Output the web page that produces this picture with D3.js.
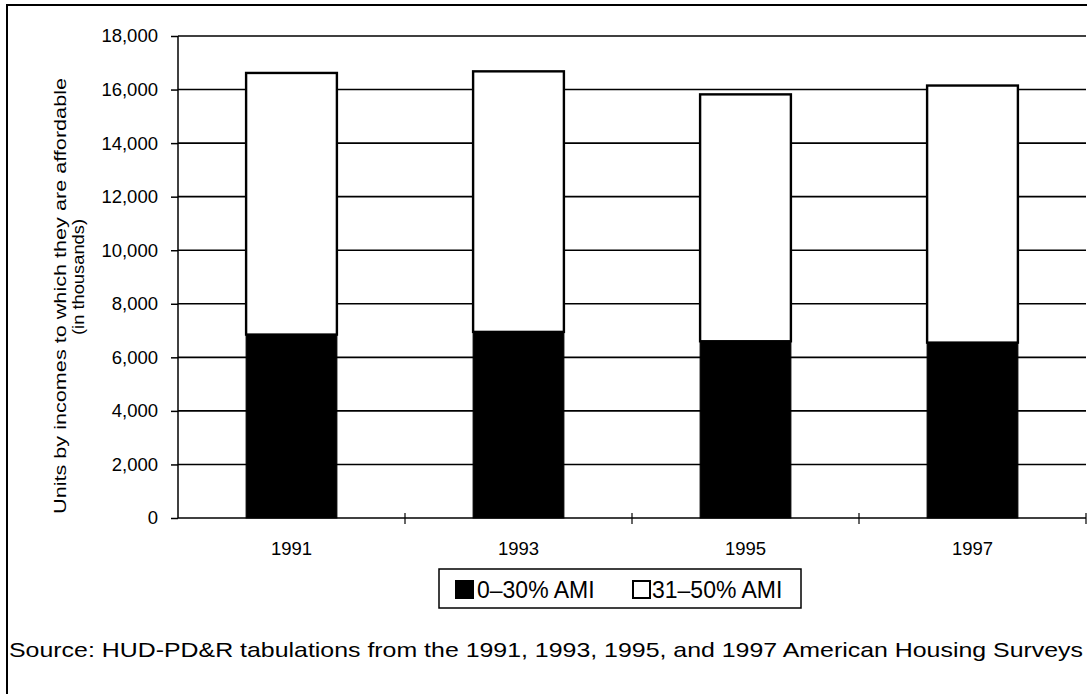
<!DOCTYPE html>
<html><head><meta charset="utf-8">
<script src="https://cdn.jsdelivr.net/npm/d3@7"></script>
<style>body{margin:0;background:#fff}svg{display:block}</style>
</head><body>
<svg id="c" width="1087" height="694"></svg>
<script>
const years = ["1991","1993","1995","1997"];
const low = [6850, 6950, 6600, 6550];      // 0–30% AMI
const mid = [9770, 9730, 9220, 9600];      // 31–50% AMI
const seriesNames = ["0\u201330% AMI","31\u201350% AMI"];
const yTicks = [0,2000,4000,6000,8000,10000,12000,14000,16000,18000];
const yLabel1 = "Units by incomes to which they are affordable";
const yLabel2 = "(in thousands)";
const source = "Source: HUD-PD&R tabulations from the 1991, 1993, 1995, and 1997 American Housing Surveys";

const svg = d3.select("#c");
const font = "Arial, 'Liberation Sans', sans-serif";
const L = 178, R = 1086, T = 36, B = 518;

// outer frame
svg.append("path").attr("d","M7,694 L7,5 L1087,5").attr("fill","none").attr("stroke","#000").attr("stroke-width",2);

const x = d3.scaleBand().domain(years).range([L,R]).paddingInner(0.6).paddingOuter(0.3);
const xb = d3.scaleBand().domain(years).range([L,R]);
const y = d3.scaleLinear().domain([0,18000]).range([B,T]);

// gridlines
svg.append("g").selectAll("line").data(yTicks.slice(1)).join("line")
  .attr("x1",L).attr("x2",R).attr("y1",d=>y(d)).attr("y2",d=>y(d))
  .attr("stroke","#000").attr("stroke-width",1.6);

// bars
const data = years.map((yr,i)=>({yr, a:low[i], b:mid[i]}));
const g = svg.append("g");
g.selectAll("rect.w").data(data).join("rect").attr("class","w")
  .attr("x",d=>x(d.yr)).attr("width",x.bandwidth())
  .attr("y",d=>y(d.a+d.b)).attr("height",d=>y(d.a)-y(d.a+d.b))
  .attr("fill","#fff").attr("stroke","#000").attr("stroke-width",2.4);
g.selectAll("rect.k").data(data).join("rect").attr("class","k")
  .attr("x",d=>x(d.yr)).attr("width",x.bandwidth())
  .attr("y",d=>y(d.a)).attr("height",d=>y(0)-y(d.a))
  .attr("fill","#000").attr("stroke","#000").attr("stroke-width",1);

// y axis
const ya = svg.append("g").attr("transform",`translate(${L},0)`)
  .call(d3.axisLeft(y).tickValues(yTicks).tickSize(7).tickPadding(13).tickFormat(d3.format(",")));
ya.select(".domain").attr("stroke","#000").attr("stroke-width",1.5).attr("d",`M0,${B}V${T}`);
ya.selectAll(".tick line").attr("stroke","#000").attr("stroke-width",1.5);
ya.selectAll("text").attr("font-family",font).attr("font-size",18.5).attr("fill","#000");

// x axis
svg.append("line").attr("x1",L).attr("x2",R).attr("y1",B).attr("y2",B).attr("stroke","#000").attr("stroke-width",1.6);
svg.append("g").selectAll("line").data(years).join("line")
  .attr("x1",d=>xb(d)+xb.bandwidth()).attr("x2",d=>xb(d)+xb.bandwidth())
  .attr("y1",B-5).attr("y2",B+6).attr("stroke","#000").attr("stroke-width",1.2);
svg.append("g").selectAll("text").data(years).join("text")
  .attr("x",d=>x(d)+x.bandwidth()/2).attr("y",555).attr("text-anchor","middle")
  .attr("font-family",font).attr("font-size",18.5).text(d=>d);

// y label
svg.append("text").attr("transform","translate(66,296) rotate(-90)").attr("text-anchor","middle")
  .attr("font-family",font).attr("font-size",17).attr("textLength",436).attr("lengthAdjust","spacingAndGlyphs").text(yLabel1);
svg.append("text").attr("transform","translate(84,277) rotate(-90)").attr("text-anchor","middle")
  .attr("font-family",font).attr("font-size",17).attr("textLength",116).attr("lengthAdjust","spacingAndGlyphs").text(yLabel2);

// legend
const lg = svg.append("g");
lg.append("rect").attr("x",439).attr("y",569).attr("width",362).attr("height",39)
  .attr("fill","#fff").attr("stroke","#000").attr("stroke-width",1.5);
const items = [{n:seriesNames[0],f:"#000",sx:456,tx:477},{n:seriesNames[1],f:"#fff",sx:633,tx:652}];
lg.selectAll("rect.s").data(items).join("rect").attr("class","s")
  .attr("x",d=>d.sx).attr("y",581).attr("width",17).attr("height",17)
  .attr("fill",d=>d.f).attr("stroke","#000").attr("stroke-width",2);
lg.selectAll("text").data(items).join("text")
  .attr("x",d=>d.tx).attr("y",598).attr("font-family",font).attr("font-size",23).text(d=>d.n);

// source
svg.append("text").attr("x",9).attr("y",657).attr("font-family",font).attr("font-size",21)
  .attr("textLength",1074).attr("lengthAdjust","spacingAndGlyphs").text(source);
</script>
</body></html>
